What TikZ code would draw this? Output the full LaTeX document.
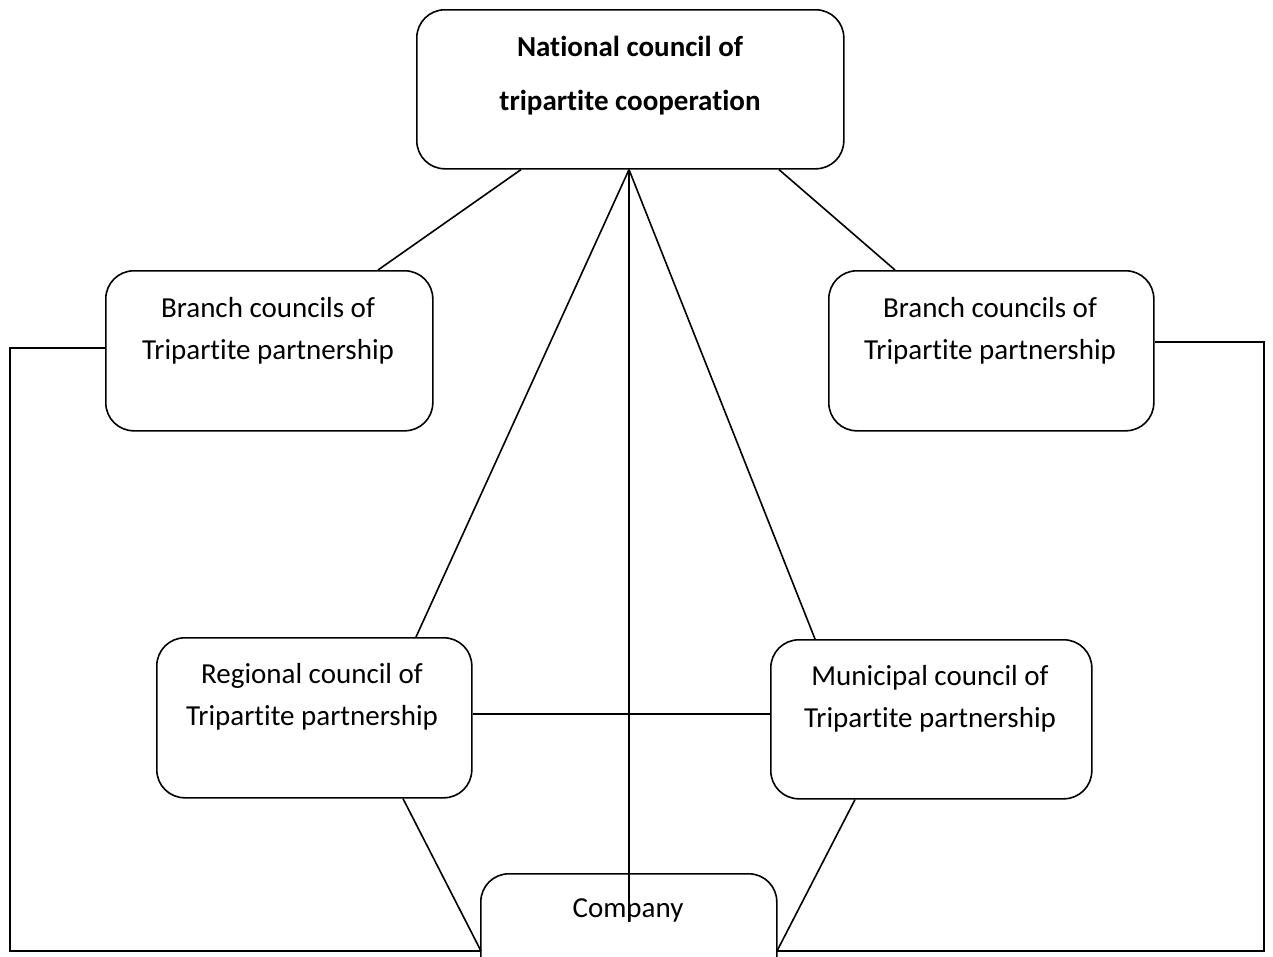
\documentclass[tikz,border=0pt]{standalone}
\usepackage{fontspec}
\setmainfont[Ligatures=CommonOff]{Carlito}
\usetikzlibrary{calc}
\begin{document}
\begin{tikzpicture}[x=1pt,y=-1pt,
  box/.style={draw, line width=1.6pt, rounded corners=28pt, anchor=north west, inner sep=0pt},
  txt/.style={align=center, inner sep=0pt, font=\fontsize{29}{42}\selectfont},
  btxt/.style={align=center, inner sep=0pt, font=\fontsize{29}{54}\selectfont\bfseries},
  conn/.style={line width=1.6pt}]
\useasboundingbox (0,0) rectangle (1273,956);
% boxes
\node[box, minimum width=427pt, minimum height=159pt] (nat) at (416,9) {};
\node[box, minimum width=327pt, minimum height=160pt] (bl) at (105,270) {};
\node[box, minimum width=325pt, minimum height=160pt] (br) at (828,270) {};
\node[box, minimum width=315pt, minimum height=160pt] (reg) at (156,637) {};
\node[box, minimum width=321pt, minimum height=159pt] (mun) at (770,639) {};
\node[box, minimum width=296pt, minimum height=130pt] (com) at (480,873) {};
% texts
\node[btxt] (natt) at (630,76) {National council of\\tripartite cooperation};
\node[txt] (blt) at (268,331) {Branch councils of\\Tripartite partnership};
\node[txt] (brt) at (990,331) {Branch councils of\\Tripartite partnership};
\node[txt] (regt) at (312,697) {Regional council of\\Tripartite partnership};
\node[txt] (munt) at (930,699) {Municipal council of\\Tripartite partnership};
\node[txt] (comt) at (628,910) {Company};
% coordinates
\coordinate (apex) at ($(nat.south west)+(213,0)$);
\coordinate (cend) at ($(com.north west)+(149,49)$);
\coordinate (cbl) at (481,951);
\coordinate (cbr) at (777,951);
\coordinate (lcor) at (10,348);
\coordinate (lbot) at (10,951);
\coordinate (rcor) at (1264,342);
\coordinate (rbot) at (1264,951);
% connectors
\draw[conn] ($(nat.south west)+(105,0)$) -- ($(bl.north west)+(273,0)$);
\draw[conn] ($(nat.south west)+(363,0)$) -- ($(br.north west)+(67,0)$);
\draw[conn] (apex) -- ($(reg.north west)+(260,0)$);
\draw[conn] (apex) -- ($(mun.north west)+(45,0)$);
\draw[conn] (apex) -- (cend);
\draw[conn] ($(reg.north east)+(0,77)$) -- ($(mun.north west)+(0,75)$);
\draw[conn] ($(reg.south west)+(247,0)$) -- (cbl);
\draw[conn] ($(mun.south west)+(85,0)$) -- (cbr);
\draw[conn] ($(bl.north west)+(0,78)$) -- (lcor) -- (lbot) -- (cbl);
\draw[conn] ($(br.north east)+(0,72)$) -- (rcor) -- (rbot) -- (cbr);
\end{tikzpicture}
\end{document}
